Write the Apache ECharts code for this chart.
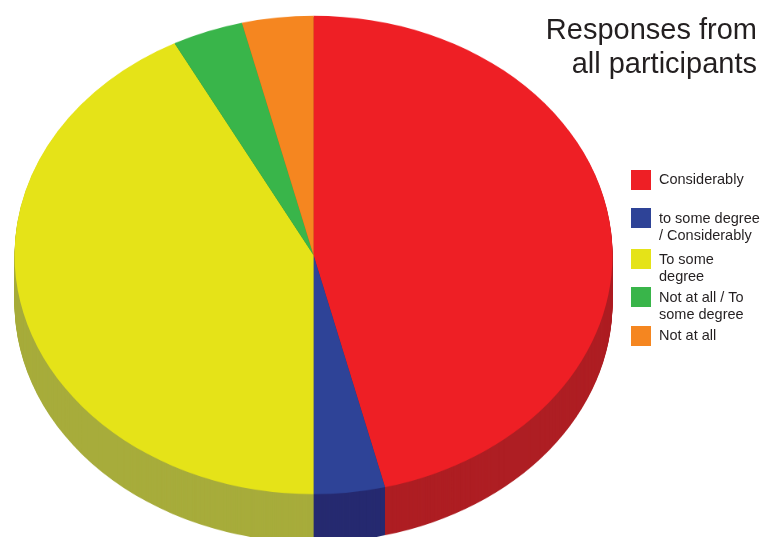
<!DOCTYPE html>
<html>
<head>
<meta charset="utf-8">
<script src="https://cdn.jsdelivr.net/npm/echarts@6/dist/echarts.min.js"></script>
<style>
html,body{margin:0;padding:0;background:#fff;overflow:hidden;}
#wrap{position:relative;width:763px;height:537px;overflow:hidden;}
#pie{position:absolute;left:0;top:0;width:763px;height:671.25px;transform:scaleY(0.8);transform-origin:0 0;}
#legend{position:absolute;left:0;top:0;width:763px;height:537px;}
</style>
</head>
<body>
<div id="wrap"><div id="pie"></div><div id="legend"></div></div>
<script>
const categories = ['Considerably', 'to some degree\n/ Considerably', 'To some\ndegree', 'Not at all / To\nsome degree', 'Not at all'];
const values = [12, 1, 11, 1, 1];
const topColors = ['#EE1F25', '#2E4397', '#E5E318', '#39B54A', '#F58620'];
const sideColors = ['#AE1E23', '#262A70', '#A7AC3B', '#2A8236', '#B0621A'];
const titleText = 'Responses from\nall participants';

const SY = 0.8;            // vertical squash of the pie
const CX = 313.5, CY = 255 / SY, R = 299;
const DEPTH = 48 / SY;     // side depth in unscaled units

function pieData(colors) {
  return categories.map((c, i) => ({ name: c, value: values[i], itemStyle: { color: colors[i] } }));
}
const series = [];
for (let k = Math.round(DEPTH); k >= 1; k--) {
  series.push({
    type: 'pie', silent: true, animation: false, startAngle: 90, clockwise: true,
    center: [CX, CY + k], radius: [0, R], label: { show: false }, labelLine: { show: false },
    itemStyle: { borderWidth: 0 }, emphasis: { disabled: true },
    data: pieData(sideColors)
  });
}
series.push({
  type: 'pie', silent: true, animation: false, startAngle: 90, clockwise: true,
  center: [CX, CY], radius: [0, R], label: { show: false }, labelLine: { show: false },
  itemStyle: { borderWidth: 0 }, emphasis: { disabled: true },
  data: pieData(topColors)
});
const pie = echarts.init(document.getElementById('pie'), null, { renderer: 'canvas' });
pie.setOption({ animation: false, series: series });

// Overlay: title and legend
const legendTops = [170, 208, 249, 287, 326];
const FONT = 'Liberation Sans, Arial, sans-serif';
const legends = categories.map((c, i) => {
  const multi = c.indexOf('\n') >= 0;
  return {
    data: [c], orient: 'vertical', left: 631, top: multi ? legendTops[i] - 16.5 : legendTops[i], padding: 0,
    icon: 'rect', itemWidth: 20, itemHeight: 20, itemGap: 0, selectedMode: false,
    formatter: function (name) {
      if (name.indexOf('\n') < 0) return '{a|' + name + '}';
      return '{s| }\n' + name.split('\n').map(l => '{a|' + l + '}').join('\n');
    },
    textStyle: {
      fontFamily: FONT, fontSize: 14.5, color: '#231F20', lineHeight: 17,
      rich: {
        a: { fontFamily: FONT, fontSize: 14.5, color: '#231F20', lineHeight: 17, padding: [0, 0, 0, 3] },
        s: { fontSize: 4, lineHeight: 19 }
      }
    }
  };
});
const ov = echarts.init(document.getElementById('legend'), null, { renderer: 'canvas' });
ov.setOption({
  animation: false,
  title: {
    text: titleText, left: 757, top: 14, padding: 0,
    textAlign: 'right',
    textStyle: { fontFamily: FONT, fontSize: 29, fontWeight: 'normal', color: '#231F20', lineHeight: 34 }
  },
  legend: legends,
  series: [{
    type: 'pie', silent: true, radius: [0, 0], center: [-100, -100], label: { show: false }, labelLine: { show: false },
    data: pieData(topColors)
  }]
});
</script>
</body>
</html>
